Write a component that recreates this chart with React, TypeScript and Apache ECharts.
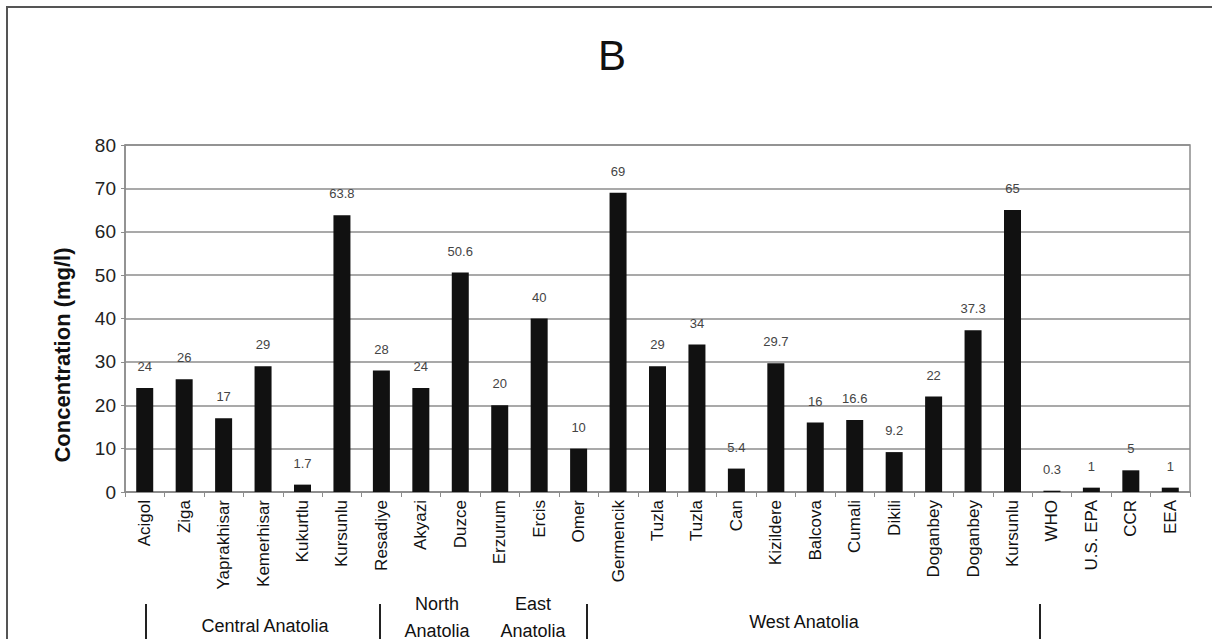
import React, { useEffect, useRef } from "react";
import * as echarts from "echarts";

const categories = [
  "Acigol", "Ziga", "Yaprakhisar", "Kemerhisar", "Kukurtlu", "Kursunlu",
  "Resadiye", "Akyazi", "Duzce", "Erzurum", "Ercis", "Omer",
  "Germencik", "Tuzla", "Tuzla", "Can", "Kizildere", "Balcova", "Cumali",
  "Dikili", "Doganbey", "Doganbey", "Kursunlu",
  "WHO", "U.S. EPA", "CCR", "EEA",
];
const values = [
  24, 26, 17, 29, 1.7, 63.8,
  28, 24, 50.6, 20, 40, 10,
  69, 29, 34, 5.4, 29.7, 16, 16.6,
  9.2, 22, 37.3, 65,
  0.3, 1, 5, 1,
];
const yTicks = [0, 10, 20, 30, 40, 50, 60, 70, 80];
const title = "B";
const yName = "Concentration (mg/l)";
const groupLabels = ["Central Anatolia", "North\nAnatolia", "East\nAnatolia", "West Anatolia"];

export default function App() {
  const ref = useRef<HTMLDivElement>(null);
  useEffect(() => {
    document.body.style.margin = "0";
    const chart = echarts.init(ref.current!, null, { renderer: "svg" });
    const font = "Liberation Sans, Arial, sans-serif";
    chart.setOption({
      animation: false,
      backgroundColor: "#ffffff",
      textStyle: { fontFamily: font },
      grid: {
        left: 125,
        right: 22,
        top: 145,
        bottom: 147,
        show: true,
        borderColor: "#8c8c8c",
        borderWidth: 1.5,
      },
      xAxis: {
        type: "category",
        data: categories,
        boundaryGap: true,
        axisLine: { show: true, lineStyle: { color: "#8c8c8c", width: 1.5 } },
        axisTick: { show: true, length: 5, lineStyle: { color: "#8c8c8c" } },
        axisLabel: {
          interval: 0,
          rotate: 90,
          fontSize: 17,
          color: "#111",
          margin: 8,
          fontFamily: font,
        },
      },
      yAxis: {
        type: "value",
        min: yTicks[0],
        max: yTicks[yTicks.length - 1],
        interval: 10,
        axisLine: { show: true, lineStyle: { color: "#8c8c8c", width: 1.5 } },
        axisTick: { show: true, length: 4, lineStyle: { color: "#8c8c8c" } },
        axisLabel: { fontSize: 19, color: "#222", margin: 9, fontFamily: font },
        splitLine: { show: true, lineStyle: { color: "#8c8c8c", width: 1.5 } },
      },
      series: [
        {
          type: "bar",
          data: values,
          barWidth: 17,
          itemStyle: { color: "#111" },
          label: {
            show: true,
            position: "top",
            distance: 15,
            fontSize: 13,
            color: "#444",
            fontFamily: font,
          },
        },
      ],
      graphic: [
        {
          type: "rect",
          shape: { x: 7, y: 7, width: 1300, height: 800 },
          style: { fill: "none", stroke: "#555", lineWidth: 2 },
          silent: true,
        },
        {
          type: "text",
          x: 612,
          y: 55,
          style: {
            text: title,
            fontSize: 42,
            fill: "#111",
            align: "center",
            verticalAlign: "middle",
            fontFamily: font,
          },
        },
        {
          type: "text",
          x: 62,
          y: 355,
          rotation: Math.PI / 2,
          style: {
            text: yName,
            fontSize: 22,
            fontWeight: "bold",
            fill: "#111",
            align: "center",
            verticalAlign: "middle",
            fontFamily: font,
          },
        },
        ...[146, 380, 587, 1040].map((x) => ({
          type: "line",
          shape: { x1: x, y1: 604, x2: x, y2: 640 },
          style: { stroke: "#222", lineWidth: 2 },
        })),
        {
          type: "text",
          x: 265,
          y: 626,
          style: { text: groupLabels[0], fontSize: 18, fill: "#111", align: "center", verticalAlign: "middle", fontFamily: font },
        },
        {
          type: "text",
          x: 437,
          y: 617,
          style: { text: groupLabels[1], fontSize: 18, lineHeight: 27, fill: "#111", align: "center", verticalAlign: "middle", fontFamily: font },
        },
        {
          type: "text",
          x: 533,
          y: 617,
          style: { text: groupLabels[2], fontSize: 18, lineHeight: 27, fill: "#111", align: "center", verticalAlign: "middle", fontFamily: font },
        },
        {
          type: "text",
          x: 804,
          y: 622,
          style: { text: groupLabels[3], fontSize: 18, fill: "#111", align: "center", verticalAlign: "middle", fontFamily: font },
        },
      ],
    });
    return () => chart.dispose();
  }, []);
  return (
    <div
      ref={ref}
      style={{ position: "absolute", left: 0, top: 0, width: 1212, height: 639 }}
    />
  );
}
